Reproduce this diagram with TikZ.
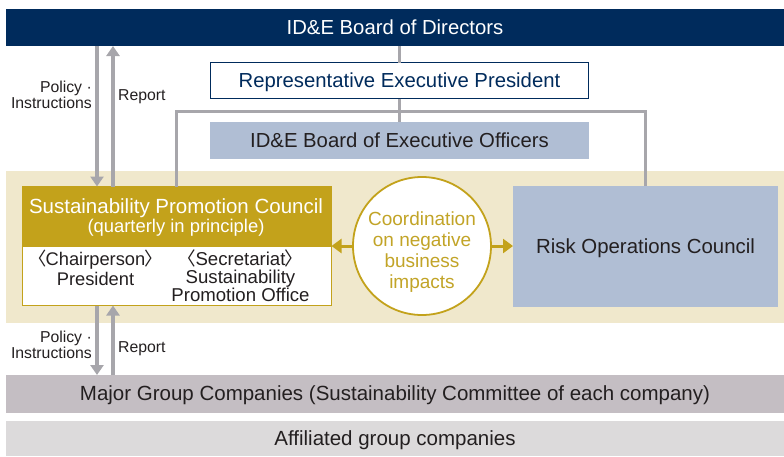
\documentclass[tikz,border=0pt]{standalone}
\usepackage{fontspec}
\setmainfont{Liberation Sans}
\newfontfamily\cjkfont{Noto Sans CJK JP}
\usetikzlibrary{arrows.meta}
\definecolor{navy}{HTML}{002B5C}
\definecolor{gold}{HTML}{C3A21B}
\definecolor{goldtxt}{HTML}{C2A427}
\definecolor{beige}{HTML}{F0E8CC}
\definecolor{paleblue}{HTML}{B0BED4}
\definecolor{lgrey}{HTML}{A7A6AB}
\definecolor{majorgrey}{HTML}{C4BEC3}
\definecolor{affgrey}{HTML}{DCDADB}
\definecolor{ink}{HTML}{231F20}
\newcommand{\lbr}{{\cjkfont\kern-0.45em 〈\kern-0.05em}}
\newcommand{\rbr}{{\cjkfont\kern-0.05em 〉\kern-0.45em}}
\tikzset{
  boxnode/.style={rectangle, inner sep=0pt, outer sep=0pt, align=center, text height=14.6pt, text depth=1.5pt},
  lab/.style={inner sep=0pt, align=right, font=\fontsize{15.8}{16}\selectfont, text=ink},
  conn/.style={draw=lgrey, line width=3pt},
  garrow/.style={draw=lgrey, line width=3.2pt, -{Triangle[width=13pt,length=10pt]}},
  goldarrow/.style={draw=gold, line width=3pt, -{Triangle[width=14pt,length=10pt]}}
}
\begin{document}
\begin{tikzpicture}[x=1pt,y=-1pt]
\useasboundingbox (0,0) rectangle (784,456);
% beige band
\fill[beige] (6,171) rectangle (784,323);
% boxes
\node[boxnode, fill=navy, minimum width=778pt, minimum height=37pt, text=white,
  font=\fontsize{20.3}{22}\selectfont] (board) at (395,27.5) {ID\&E Board of Directors};
\node[boxnode, draw=navy, line width=1pt, fill=white, minimum width=378pt, minimum height=36pt,
  text=navy, font=\fontsize{20.3}{22}\selectfont] (rep) at (399.5,80.5) {Representative Executive President};
\node[boxnode, fill=paleblue, minimum width=379pt, minimum height=37pt,
  text=ink, font=\fontsize{20.3}{22}\selectfont] (beo) at (399.5,140.5) {ID\&E Board of Executive Officers};
\node[boxnode, fill=white, draw=gold, line width=1.6pt, minimum width=309pt, minimum height=119pt] (council) at (177,246) {};
\fill[gold] (council.north west) rectangle (332,247);
\node[text=white, inner sep=0pt, font=\fontsize{20.5}{22}\selectfont] (spc) at (176,208) {Sustainability Promotion Council};
\node[text=white, inner sep=0pt, font=\fontsize{18.4}{20}\selectfont] (qip) at (176,228) {(quarterly in principle)};
\node[text=ink, inner sep=0pt, align=center, font=\fontsize{18.3}{19.5}\selectfont, anchor=north] (chair) at (95.5,250)
  {\lbr Chairperson\rbr\\President};
\node[text=ink, inner sep=0pt, align=center, font=\fontsize{18.6}{18}\selectfont, anchor=north] (secr) at (240.5,250)
  {\lbr Secretariat\rbr\\Sustainability\\Promotion Office};
\node[circle, fill=white, draw=gold, line width=1.8pt, minimum size=138pt, inner sep=0pt] (coord) at (422,246) {};
\node[text=goldtxt, inner sep=0pt, align=center, font=\fontsize{19}{21}\selectfont] (coordtxt) at (422,252)
  {Coordination\\on negative\\business\\impacts};
\node[boxnode, fill=paleblue, minimum width=265pt, minimum height=121pt, text=ink,
  font=\fontsize{20.4}{22}\selectfont] (risk) at (645.5,246.5) {Risk Operations Council};
\node[boxnode, fill=majorgrey, minimum width=778pt, minimum height=38pt, text=ink,
  font=\fontsize{20.5}{22}\selectfont] (major) at (395,394) {Major Group Companies (Sustainability Committee of each company)};
\node[boxnode, fill=affgrey, minimum width=778pt, minimum height=35pt, text=ink,
  font=\fontsize{20.5}{22}\selectfont] (aff) at (395,438.5) {Affiliated group companies};
% connectors
\coordinate (j) at (399.5,111);
\draw[conn] (board.south -| rep.north) -- (rep.north);
\draw[conn] (rep.south) -- (beo.north);
\draw[conn] (council.north -| 176,0) |- (j) -| (risk.north);
% policy / report arrows top
\draw[garrow] (board.south -| 97,0) -- (council.north -| 97,0);
\draw[garrow] (council.north -| 113,0) -- (board.south -| 113,0);
\node[lab, anchor=east] (pol1) at (92,95) {Policy ·\\Instructions};
\node[lab, anchor=west] (rep1) at (118,97) {Report};
% policy / report arrows bottom
\draw[garrow] (council.south -| 97,0) -- (major.north -| 97,0);
\draw[garrow] (major.north -| 113,0) -- (council.south -| 113,0);
\node[lab, anchor=east] (pol2) at (92,345) {Policy ·\\Instructions};
\node[lab, anchor=west] (rep2) at (118,349) {Report};
% coordination arrows
\draw[goldarrow] (coord.west) -- (council.east |- coord.west);
\draw[goldarrow] (coord.east) -- (risk.west |- coord.east);
\end{tikzpicture}
\end{document}
